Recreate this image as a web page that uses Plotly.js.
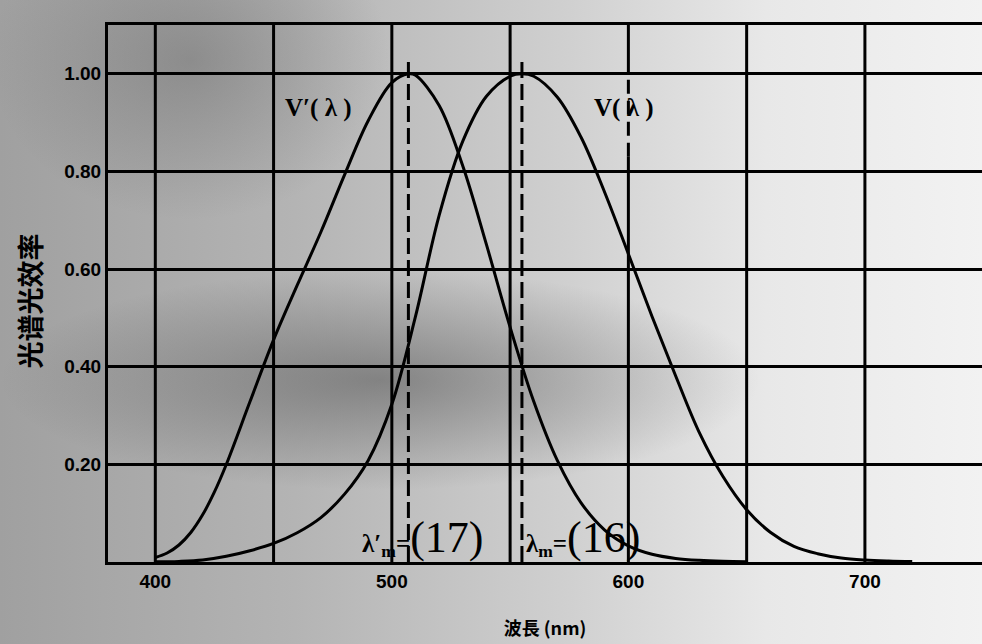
<!DOCTYPE html>
<html>
<head>
<meta charset="utf-8">
<script src="https://cdn.plot.ly/plotly-3.0.1.min.js"></script>
<style>
  html, body { margin: 0; padding: 0; }
  body {
    width: 982px; height: 644px; overflow: hidden;
    background:
      radial-gradient(ellipse 380px 110px at 380px 380px, rgba(60,60,60,0.45), rgba(60,60,60,0) 100%),
      radial-gradient(ellipse 200px 160px at 190px 60px, rgba(80,80,80,0.35), rgba(80,80,80,0) 100%),
      linear-gradient(to right, #a0a0a0 0%, #b4b4b4 30%, #d0d0d0 58%, #e8e8e8 78%, #f2f2f2 100%);
  }
  #chart { width: 982px; height: 644px; }
</style>
</head>
<body>
<div id="chart"></div>
<script>
// Wavelengths (nm) and relative luminous efficiency
const wlPhotopic = [400,410,420,430,440,450,460,470,480,490,500,510,520,530,540,550,555,560,570,580,590,600,610,620,630,640,650,660,670,680,690,700,710,720];
const vPhotopic  = [0.0004,0.0012,0.004,0.0116,0.023,0.038,0.06,0.091,0.139,0.208,0.323,0.503,0.71,0.862,0.954,0.995,1.0,0.995,0.952,0.87,0.757,0.631,0.503,0.381,0.265,0.175,0.107,0.061,0.032,0.017,0.0082,0.0041,0.0021,0.001];

const wlScotopic = [400,405,410,415,420,425,430,440,450,460,470,480,490,500,507,510,520,530,540,550,560,570,580,590,600,610,620,630,640,650];
const vScotopic  = [0.0093,0.0185,0.0348,0.0604,0.0966,0.1436,0.1998,0.3281,0.455,0.567,0.676,0.793,0.904,0.982,1.0,0.997,0.935,0.811,0.65,0.481,0.3288,0.2076,0.1212,0.0655,0.0332,0.0159,0.0074,0.0034,0.0015,0.0007];

// Axis ticks and grid
const xTickVals = [400,500,600,700];
const xTickText = ["400","500","600","700"];
const gridX = [400,450,500,550,600,650,700];
const yTickVals = [0.2,0.4,0.6,0.8,1.0];
const yTickText = ["0.20","0.40","0.60","0.80","1.00"];

// Dashed reference lines: peak wavelengths λ'm and λm
const peakX = [507,555];
const peakTop = [1.03,1.03];
// Grid line at 600 nm drawn dashed over part of its length
const dashedGridX = [600];
const dashedGridFrom = [0.83];
const dashedGridTo = [1.0];

const yMax = 1.1;
const xRange = [380, 749.5];

const shapes = [];
gridX.forEach(function (gx) {
  const k = dashedGridX.indexOf(gx);
  if (k < 0) {
    shapes.push({type:'line', xref:'x', yref:'y', x0:gx, x1:gx, y0:0, y1:yMax, line:{color:'#000', width:3}, layer:'below'});
  } else {
    shapes.push({type:'line', xref:'x', yref:'y', x0:gx, x1:gx, y0:0, y1:dashedGridFrom[k], line:{color:'#000', width:3}, layer:'below'});
    shapes.push({type:'line', xref:'x', yref:'y', x0:gx, x1:gx, y0:dashedGridFrom[k], y1:dashedGridTo[k], line:{color:'#000', width:3, dash:'14px,7px'}, layer:'below'});
    shapes.push({type:'line', xref:'x', yref:'y', x0:gx, x1:gx, y0:dashedGridTo[k], y1:yMax, line:{color:'#000', width:3}, layer:'below'});
  }
});
peakX.forEach(function (px, i) {
  shapes.push({type:'line', xref:'x', yref:'y', x0:px, x1:px, y0:0, y1:peakTop[i], line:{color:'#000', width:3, dash:'16px,6px'}, layer:'below'});
});

const traces = [
  {x: wlScotopic, y: vScotopic, type:'scatter', mode:'lines', line:{color:'#000', width:3, shape:'spline', smoothing:1}, name:"V'(λ)", hoverinfo:'skip'},
  {x: wlPhotopic, y: vPhotopic, type:'scatter', mode:'lines', line:{color:'#000', width:3, shape:'spline', smoothing:1}, name:"V(λ)", hoverinfo:'skip'}
];

const labelFont = {family:'Liberation Serif, DejaVu Serif, serif', size:25, color:'#000'};
const tickFont = {family:'Liberation Sans, Arial, sans-serif', size:19, color:'#000', weight:'bold'};

const layout = {
  width: 982, height: 644,
  margin: {l:108, r:0, t:25, b:82},
  paper_bgcolor: 'rgba(0,0,0,0)',
  plot_bgcolor: 'rgba(0,0,0,0)',
  showlegend: false,
  xaxis: {
    range: xRange, showgrid:false, zeroline:false,
    showline:true, mirror:true, linecolor:'#000', linewidth:3,
    tickvals: xTickVals, ticktext: xTickText, ticks:'',
    tickfont: tickFont,
    title: {text:'波長 (nm)', standoff: 32, font:{family:'Noto Sans CJK SC, Noto Sans, sans-serif', size:18, color:'#000', weight:'bold'}}
  },
  yaxis: {
    range: [0, yMax], showgrid:true, gridcolor:'#000', gridwidth:3, zeroline:false,
    showline:true, mirror:false, linecolor:'#000', linewidth:3,
    tickvals: yTickVals, ticktext: yTickText, ticks:'',
    tickfont: tickFont
  },
  shapes: shapes,
  annotations: [
    {x: 0, y: 0.485, xref:'paper', yref:'paper', xanchor:'center', yanchor:'middle', xshift:-78, text:'<b>光谱光效率</b>', textangle:-90, showarrow:false,
     font:{family:'Noto Sans CJK SC, sans-serif', size:27, color:'#000'}},
    {x: 469, y: 0.93, xref:'x', yref:'y', text:"<b>V′( λ )</b>", showarrow:false, font:labelFont},
    {x: 598, y: 0.93, xref:'x', yref:'y', text:"<b>V( λ )</b>", showarrow:false, font:labelFont},
    {x: 513, y: 0.05, xref:'x', yref:'y', text:"<b>λ′<sub>m</sub>=</b><span style='font-size:44px'>(17)</span>", showarrow:false, font:{family:'Liberation Serif, serif', size:25, color:'#000'}},
    {x: 581, y: 0.05, xref:'x', yref:'y', text:"<b>λ<sub>m</sub>=</b><span style='font-size:44px'>(16)</span>", showarrow:false, font:{family:'Liberation Serif, serif', size:25, color:'#000'}}
  ]
};

Plotly.newPlot('chart', traces, layout, {displayModeBar:false, staticPlot:true});
</script>
</body>
</html>
